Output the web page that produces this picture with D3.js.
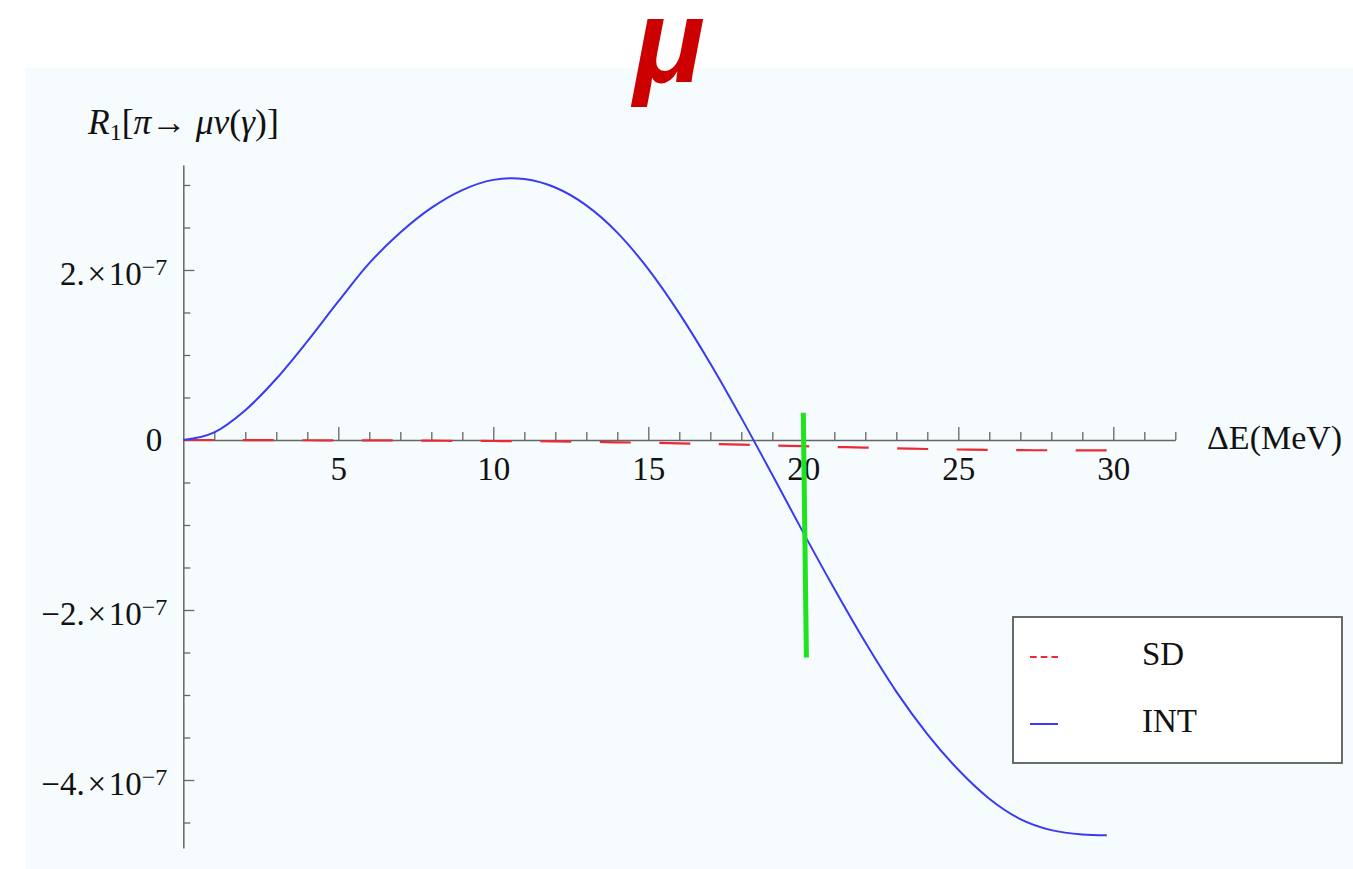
<!DOCTYPE html>
<html>
<head>
<meta charset="utf-8">
<script src="https://cdn.jsdelivr.net/npm/d3@7"></script>
<style>
  body { margin: 0; background: #ffffff; }
  svg { display: block; }
</style>
</head>
<body>
<svg id="chart" width="1353" height="869"></svg>
<script>
// ΔE samples (MeV); the last one is the kinematic endpoint of π → μν(γ)
const energies = [0, 1, 2, 3, 4, 5, 6, 7, 8, 9, 10, 10.6, 11, 12, 13, 14, 15, 16, 17, 18, 19, 20,
                  21, 22, 23, 24, 25, 26, 27, 28, 29, 29.79];
// interference term R1, in units of 1e-7
const intValues = [0, 0.09, 0.35, 0.72, 1.16, 1.63, 2.08, 2.44, 2.73, 2.94, 3.06, 3.08, 3.07,
                   2.97, 2.76, 2.44, 2.01, 1.49, 0.90, 0.26, -0.41, -1.09, -1.75, -2.38, -2.96,
                   -3.46, -3.88, -4.22, -4.46, -4.59, -4.64, -4.65];
// structure-dependent term R1, in units of 1e-7
const sdValues = [0, 0, -0.001, -0.002, -0.003, -0.004, -0.005, -0.006, -0.008, -0.010, -0.012,
                  -0.013, -0.014, -0.016, -0.021, -0.027, -0.033, -0.039, -0.047, -0.055, -0.064,
                  -0.073, -0.082, -0.090, -0.098, -0.106, -0.112, -0.117, -0.120, -0.121, -0.122,
                  -0.122];
// cut marker at ΔE = 20 MeV (x at top, x at bottom; y span in 1e-7)
const markerX = [20.0, 20.1];
const markerY = [0.32, -2.56];

const xMajorTicks = [5, 10, 15, 20, 25, 30];
const xMinorTicks = d3.range(1, 33).filter(v => v % 5 !== 0);
const yMajorTicks = [-4, -2, 2];
const yMajorMantissas = ["−4.", "−2.", "2."];
const yExponent = "−7";
const yMinorTicks = [-4.5, -3.5, -3, -2.5, -1.5, -1, -0.5, 0.5, 1, 1.5, 2.5, 3];

const seriesNames = ["SD", "INT"];
const seriesColors = { SD: "#ec2a35", INT: "#3a3af2" };

const svg = d3.select("#chart");
const serif = "'Liberation Serif', 'Times New Roman', serif";
const fs = 33;

// panel background
svg.append("rect")
  .attr("x", 25).attr("y", 68).attr("width", 1328).attr("height", 801)
  .attr("fill", "#f6fbfd");

const x = d3.scaleLinear().domain([0, 32]).range([183.3, 1175.3]);
const y = d3.scaleLinear().domain([-4.8, 3.235]).range([848, 165]);

const axisColor = "#666666";

// x axis: ticks point up into the plot, labels only on majors
const gx = svg.append("g").attr("transform", `translate(0,${y(0)})`);
gx.append("g")
  .call(d3.axisBottom(x).tickValues(xMinorTicks).tickSize(-8).tickFormat(""))
  .call(g => g.select(".domain").remove());
gx.append("g")
  .call(d3.axisBottom(x).tickValues(xMajorTicks).tickSizeInner(-13).tickSizeOuter(0))
  .call(g => g.select(".domain").attr("stroke", axisColor).attr("stroke-width", 1.5))
  .call(g => g.selectAll("text").attr("font-family", serif).attr("font-size", fs).attr("fill", "#111")
        .attr("dy", null).attr("y", 40));
gx.selectAll(".tick line").attr("stroke", axisColor).attr("stroke-width", 1.3);

// y axis: ticks point right
const gy = svg.append("g").attr("transform", `translate(${x(0)},0)`);
gy.append("g")
  .call(d3.axisLeft(y).tickValues(yMinorTicks).tickSize(-7).tickFormat(""))
  .call(g => g.select(".domain").remove());
gy.append("g")
  .call(d3.axisLeft(y).tickValues(yMajorTicks).tickSizeInner(-11).tickSizeOuter(0).tickFormat(""))
  .call(g => g.select(".domain").attr("stroke", axisColor).attr("stroke-width", 1.5));
gy.selectAll(".tick line").attr("stroke", axisColor).attr("stroke-width", 1.3);

// y tick labels in scientific notation
const ylab = svg.append("g").attr("font-family", serif).attr("fill", "#111");
yMajorTicks.forEach((v, i) => {
  const t = ylab.append("text")
    .attr("x", x(0) - 16).attr("y", y(v) + 15)
    .attr("text-anchor", "end").attr("font-size", fs);
  t.append("tspan").text(yMajorMantissas[i] + "\u200a×\u200a10");
  t.append("tspan").attr("font-size", 24).attr("dy", -10).text(yExponent);
});
ylab.append("text")
  .attr("x", x(0) - 21).attr("y", y(0) + 11)
  .attr("text-anchor", "end").attr("font-size", fs).text("0");

// axis titles
svg.append("text")
  .attr("x", 1207).attr("y", 449)
  .attr("font-family", serif).attr("font-size", 34).attr("fill", "#111")
  .text("ΔE(MeV)");

const yt = svg.append("text")
  .attr("x", 88).attr("y", 134)
  .attr("font-family", serif).attr("font-size", 35.5).attr("fill", "#111");
yt.append("tspan").attr("font-style", "italic").text("R");
yt.append("tspan").attr("font-size", 24).attr("dy", 6).text("1");
yt.append("tspan").attr("dy", -6).text("[");
yt.append("tspan").attr("font-style", "italic").text("π");
yt.append("tspan").text("→ ");
yt.append("tspan").attr("font-style", "italic").text("μν");
yt.append("tspan").text("(");
yt.append("tspan").attr("font-style", "italic").text("γ");
yt.append("tspan").text(")]");

// curves
const line = d3.line()
  .x((d, i) => x(energies[i]))
  .y(d => y(d))
  .curve(d3.curveMonotoneX);

svg.append("path")
  .datum(sdValues)
  .attr("d", line)
  .attr("fill", "none")
  .attr("stroke", seriesColors.SD)
  .attr("stroke-width", 2.2)
  .attr("stroke-dasharray", "31,28.5");

svg.append("path")
  .datum(intValues)
  .attr("d", line)
  .attr("fill", "none")
  .attr("stroke", seriesColors.INT)
  .attr("stroke-width", 2);

// green cut marker
svg.append("line")
  .attr("x1", x(markerX[0])).attr("y1", y(markerY[0]))
  .attr("x2", x(markerX[1])).attr("y2", y(markerY[1]))
  .attr("stroke", "#1ee31e").attr("stroke-width", 5);

// legend
const lg = svg.append("g");
lg.append("rect")
  .attr("x", 1013).attr("y", 617).attr("width", 329).attr("height", 146)
  .attr("fill", "#ffffff").attr("stroke", "#5a5a5a").attr("stroke-width", 1.8);
seriesNames.forEach((name, i) => {
  const cy = 657 + i * 67;
  lg.append("line")
    .attr("x1", 1030).attr("x2", 1058).attr("y1", cy).attr("y2", cy)
    .attr("stroke", seriesColors[name]).attr("stroke-width", 2)
    .attr("stroke-dasharray", name === "SD" ? "6.7,4" : null);
  lg.append("text")
    .attr("x", 1142).attr("y", cy + 8)
    .attr("font-family", serif).attr("font-size", fs).attr("fill", "#111")
    .text(name);
});

// title
svg.append("text")
  .attr("x", 669).attr("y", 82)
  .attr("text-anchor", "middle")
  .attr("font-family", "'Liberation Sans', Arial, sans-serif")
  .attr("font-weight", "bold").attr("font-style", "italic")
  .attr("font-size", 118).attr("fill", "#cc0000")
  .text("μ");
</script>
</body>
</html>
